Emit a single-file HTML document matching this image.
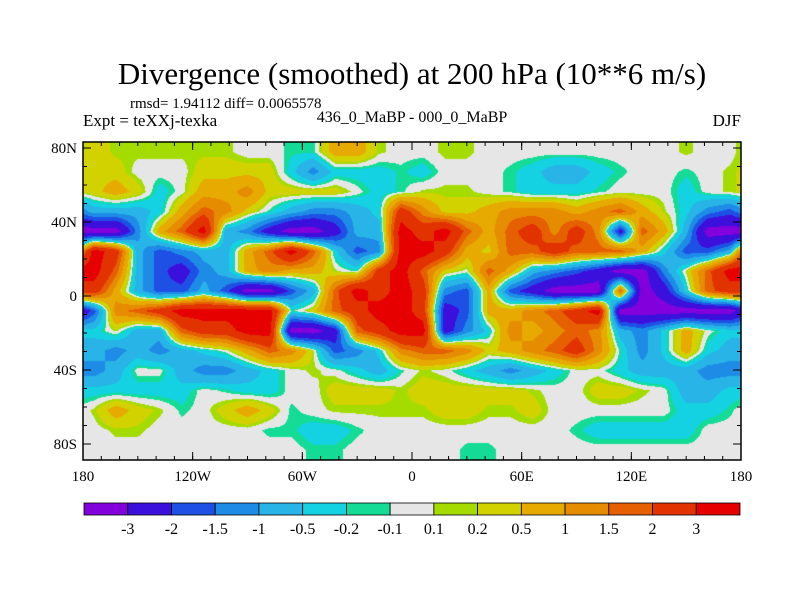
<!DOCTYPE html>
<html><head><meta charset="utf-8">
<style>
body{margin:0;background:#fff;}
#wrap{position:relative;width:800px;height:600px;overflow:hidden;font-family:"Liberation Serif",serif;}
canvas{position:absolute;left:83px;top:142px;}
svg{position:absolute;left:0;top:0;}
</style></head>
<body>
<div id="wrap">
<canvas id="field" width="658" height="318"></canvas>
<svg id="svg" width="800" height="600">
  <text x="412" y="84" font-size="31" text-anchor="middle">Divergence (smoothed) at 200 hPa (10**6 m/s)</text>
  <text x="130" y="108" font-size="15">rmsd= 1.94112 diff= 0.0065578</text>
  <text x="83" y="126" font-size="17">Expt = teXXj-texka</text>
  <text x="412" y="122" font-size="16" text-anchor="middle">436_0_MaBP - 000_0_MaBP</text>
  <text x="741" y="126" font-size="17" text-anchor="end">DJF</text>
  <g id="axes"></g>
  <g id="cbar"></g>
</svg>
</div>
<script>
const levelBounds = [-3,-2,-1.5,-1,-0.5,-0.2,-0.1,0.1,0.2,0.5,1,1.5,2,3];
const levelLabels = ["-3","-2","-1.5","-1","-0.5","-0.2","-0.1","0.1","0.2","0.5","1","1.5","2","3"];
const levelColors = ["#8200dc","#3c10dc","#1e50e6","#1e8ce6","#28b4e6","#14d2e1","#14dc96","#e6e6e6","#a5dc00","#d2d200","#e6aa00","#e68c00","#e65f00","#e13200","#e60000"];
const xTickLabels = ["180","120W","60W","0","60E","120E","180"];
const xTickLons = [-180,-120,-60,0,60,120,180];
const yTickLabels = ["80N","40N","0","40S","80S"];
const yTickLats = [80,40,0,-40,-80];
// grid: 30 columns (12 deg each, from 180W) x 16 rows (north to south)
const gridLatTop = 83, gridLatBottom = -89;
const A=-3.5,B=-2.5,C=-1.75,D=-1.25,E=-0.75,F=-0.35,G=-0.15,H=0,I=0.15,J=0.35,K=0.75,L=1.25,M=1.75,N=2.5,O=3.5;
const row0  = [J,I,I,I,I,I,I,H,H,G,G,K,K,I,H, H,I,I,H,H,H,H,H,H,H,H,H,I,H,H];
const row1  = [J,J,H,H,H,J,J,J,J,F,D,F,F,F,G, F,H,H,H,G,F,E,E,F,G,H,H,G,H,I];
const row2  = [J,K,J,F,H,K,K,L,J,J,J,J,H,F,G, I,I,I,H,G,F,F,F,G,H,H,H,F,H,I];
const row3  = [E,E,E,F,K,M,L,J,G,E,D,D,E,F,N, L,J,J,K,L,L,L,K,L,M,K,I,F,D,C];
const row4  = [A,A,D,K,M,O,E,D,B,A,A,B,E,E,O, N,O,M,K,M,N,L,N,L,B,M,K,E,A,A];
const row5  = [O,N,E,C,D,E,E,K,M,O,M,F,C,D,O, O,N,K,J,M,M,N,M,M,M,K,F,C,C,E];
const row6  = [O,M,E,C,B,D,E,K,L,K,K,I,G,N,O, M,J,H,M,K,E,D,C,B,A,A,D,I,M,O];
const row7  = [N,K,E,C,C,E,C,A,A,C,E,M,O,N,O, N,D,C,K,C,B,A,A,A,M,A,B,F,M,N];
const row8  = [C,L,M,N,O,O,O,O,O,G,J,M,N,O,O, N,B,C,K,K,L,M,N,O,A,A,A,A,A,A];
const row9  = [F,I,E,E,M,N,N,O,O,A,A,B,M,N,O, O,B,D,F,L,K,L,M,L,E,D,F,K,H,F];
const row10 = [E,D,E,D,E,F,H,K,M,L,I,C,D,F,L, M,M,L,J,K,L,M,N,L,G,D,F,K,F,E];
const row11 = [D,E,H,H,E,D,D,E,F,H,I,H,F,E,G, I,H,F,E,D,E,F,H,H,F,E,E,E,D,D];
const row12 = [F,F,F,F,F,H,G,F,F,H,H,J,J,J,I, J,J,J,J,J,I,H,H,J,J,I,H,E,E,F];
const row13 = [I,K,J,I,G,H,J,K,J,G,H,I,I,I,I, I,J,J,I,I,J,H,H,H,H,H,H,F,F,G];
const row14 = [H,I,I,H,H,H,H,H,G,G,F,F,G,H,H, H,H,H,H,H,H,H,G,F,F,F,F,F,H,H];
const row15 = [H,H,H,H,H,H,H,H,H,H,G,G,H,H,H, H,H,G,G,H,H,H,H,H,H,H,H,H,H,H];
const grid = [row0,row1,row2,row3,row4,row5,row6,row7,row8,row9,row10,row11,row12,row13,row14,row15];

const X0=83,X1=741,Y0=142,Y1=460;
function xScale(lon){return 412+lon*(X1-X0)/360;}
function yScale(lat){return 296-lat*1.85;}
function levelOf(v){let k=0;while(k<levelBounds.length&&v>levelBounds[k])k++;return k;}

// draw field (bilinear smoothing between grid cell centres)
const cv=document.getElementById('field');const ctx=cv.getContext('2d');
const nr=grid.length,nc=grid[0].length;
const W=cv.width,Hh=cv.height,cw=W/nc,ch=Hh/nr;
const img=ctx.createImageData(W,Hh);
const rgb=levelColors.map(c=>[parseInt(c.substr(1,2),16),parseInt(c.substr(3,2),16),parseInt(c.substr(5,2),16)]);
function g(r,c){r=Math.max(0,Math.min(nr-1,r));c=((c%nc)+nc)%nc;return grid[r][c];}
for(let py=0;py<Hh;py++){
  const fy=(py+0.5)/ch-0.5;const r0=Math.floor(fy);const ty=fy-r0;
  for(let px=0;px<W;px++){
    const fx=(px+0.5)/cw-0.5;const c0=Math.floor(fx);const tx=fx-c0;
    const v=(g(r0,c0)*(1-tx)+g(r0,c0+1)*tx)*(1-ty)+(g(r0+1,c0)*(1-tx)+g(r0+1,c0+1)*tx)*ty;
    const col=rgb[levelOf(v)];const i=(py*W+px)*4;
    img.data[i]=col[0];img.data[i+1]=col[1];img.data[i+2]=col[2];img.data[i+3]=255;
  }
}
ctx.putImageData(img,0,0);

const NS='http://www.w3.org/2000/svg';
function mk(tag,attrs,parent){const e=document.createElementNS(NS,tag);for(const k in attrs)e.setAttribute(k,attrs[k]);parent.appendChild(e);return e;}
const axes=document.getElementById('axes');
const frame=mk('rect',{x:X0,y:Y0,width:X1-X0,height:Y1-Y0,fill:'none',stroke:'#000','stroke-width':1.5},axes);


xTickLons.forEach((lon,i)=>{
  const x=xScale(lon);
  mk('line',{x1:x,y1:Y1,x2:x,y2:Y1-8,stroke:'#000'},axes);
  mk('line',{x1:x,y1:Y0,x2:x,y2:Y0+8,stroke:'#000'},axes);
  const t=mk('text',{x:x,y:481,'font-size':15,'text-anchor':'middle'},axes);
  t.textContent=xTickLabels[i];
  
  
});
for(let lon=-170;lon<180;lon+=10){const x=xScale(lon);
  mk('line',{x1:x,y1:Y1,x2:x,y2:Y1-4,stroke:'#000'},axes);
  mk('line',{x1:x,y1:Y0,x2:x,y2:Y0+4,stroke:'#000'},axes);}
yTickLats.forEach((lat,i)=>{
  const y=yScale(lat);
  mk('line',{x1:X0,y1:y,x2:X0+8,y2:y,stroke:'#000'},axes);
  mk('line',{x1:X1,y1:y,x2:X1-8,y2:y,stroke:'#000'},axes);
  const t=mk('text',{x:77,y:y+5,'font-size':15,'text-anchor':'end'},axes);
  t.textContent=yTickLabels[i];
  
  
});
for(let lat=-80;lat<=80;lat+=10){const y=yScale(lat);
  mk('line',{x1:X0,y1:y,x2:X0+4,y2:y,stroke:'#000'},axes);
  mk('line',{x1:X1,y1:y,x2:X1-4,y2:y,stroke:'#000'},axes);}

// colorbar
const cb=document.getElementById('cbar');
const CB0=84,CB1=740,CBY=503,CBH=12,bw=(CB1-CB0)/levelColors.length;
levelColors.forEach((c,i)=>{
  const r=mk('rect',{x:CB0+i*bw,y:CBY,width:bw,height:CBH,fill:c,stroke:'#000','stroke-width':0.8},cb);
  
  
});
levelLabels.forEach((l,i)=>{
  const t=mk('text',{x:CB0+(i+1)*bw,y:534,'font-size':16,'text-anchor':'middle'},cb);
  t.textContent=l;
  
  
});
</script>
</body></html>
